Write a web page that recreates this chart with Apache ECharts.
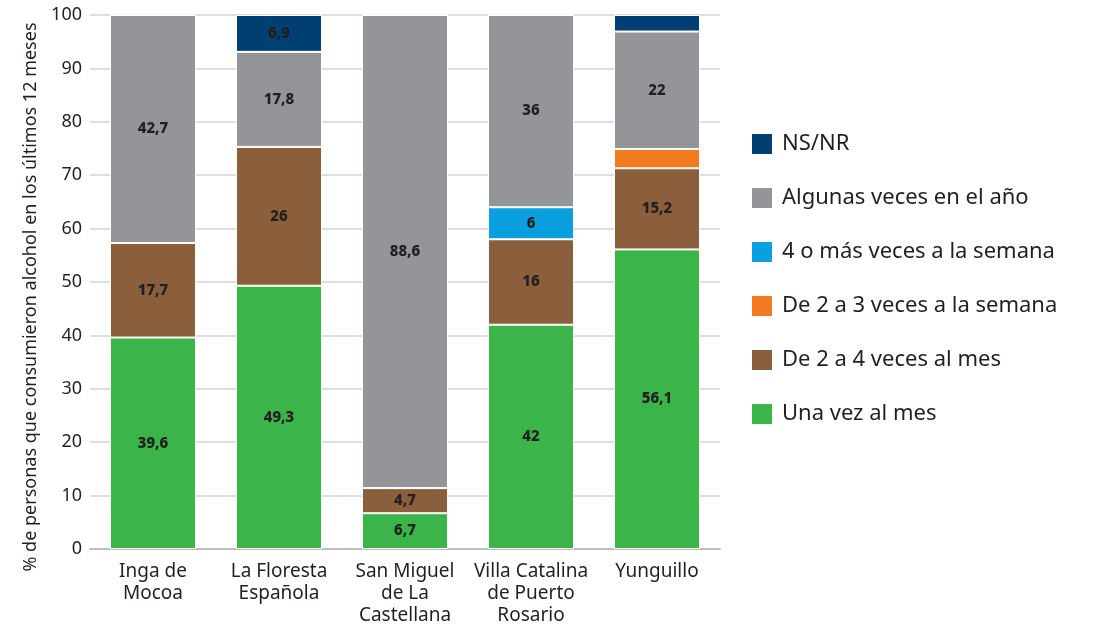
<!DOCTYPE html>
<html>
<head>
<meta charset="utf-8">
<script src="https://cdn.jsdelivr.net/npm/echarts@6/dist/echarts.min.js"></script>
<style>
  html, body { margin: 0; padding: 0; background: #fff; }
  #chart { width: 1093px; height: 628px; }
</style>
</head>
<body>
<div id="chart"></div>
<script>
// categorias (barrios / veredas)
var categories = [
  "Inga de\nMocoa",
  "La Floresta\nEspañola",
  "San Miguel\nde La\nCastellana",
  "Villa Catalina\nde Puerto\nRosario",
  "Yunguillo"
];

// valores por frecuencia de consumo (%)
var unaVezAlMes = [39.6, 49.3, 6.7, 42, 56.1];
var de2a4AlMes = [17.7, 26, 4.7, 16, 15.2];
var de2a3Semana = [0, 0, 0, 0, 3.6];
var cuatroOMasSemana = [0, 0, 0, 6, 0];
var algunasVecesAno = [42.7, 17.8, 88.6, 36, 22];
var nsnr = [0, 6.9, 0, 0, 3.1];

var yTicks = [0, 10, 20, 30, 40, 50, 60, 70, 80, 90, 100];

var FONT = "Noto Sans";
var myChart = echarts.init(document.getElementById("chart"));

function serie(name, data, color) {
  return {
    name: name,
    type: "bar",
    stack: "total",
    barWidth: 86,
    data: data,
    itemStyle: { color: color, borderColor: "#fff", borderWidth: 1 },
    label: {
      show: true,
      position: "inside",
      color: "#231f20",
      fontWeight: 800,
      fontSize: 15,
      fontFamily: FONT,
      formatter: function (p) {
        // los segmentos muy pequeños no llevan etiqueta
        if (p.value < 4) return "";
        return String(p.value).replace(".", ",");
      }
    }
  };
}

var option = {
  animation: false,
  grid: { left: 90, right: 373, top: 15, bottom: 79 },
  legend: {
    orient: "vertical",
    left: 745,
    top: 127,
    itemWidth: 22,
    itemHeight: 22,
    itemGap: 30,
    icon: "rect",
    textStyle: { fontSize: 22, lineHeight: 22, color: "#231f20", fontFamily: FONT, padding: [0, 0, 0, 4] },
    data: [
      "NS/NR",
      "Algunas veces en el año",
      "4 o más veces a la semana",
      "De 2 a 3 veces a la semana",
      "De 2 a 4 veces al mes",
      "Una vez al mes"
    ]
  },
  xAxis: {
    type: "category",
    data: categories,
    axisLine: { lineStyle: { color: "#bcbec0", width: 2 } },
    axisTick: { show: false },
    axisLabel: {
      interval: 0,
      color: "#231f20",
      fontSize: 19,
      fontFamily: FONT,
      lineHeight: 22,
      margin: 12
    }
  },
  yAxis: {
    type: "value",
    min: 0,
    max: 100,
    interval: 10,
    name: "% de personas que consumieron alcohol en los últimos 12 meses",
    nameLocation: "middle",
    nameGap: 40,
    nameTextStyle: { fontSize: 18, color: "#231f20", fontFamily: FONT, padding: [0, 30, 0, 0] },
    axisLine: { show: false },
    axisTick: { show: false },
    splitLine: { lineStyle: { color: "#d1d3d4", width: 1.5 } },
    axisLabel: {
      color: "#231f20",
      fontSize: 18,
      fontFamily: FONT,
      margin: 8,
      formatter: function (v) { return yTicks.indexOf(v) >= 0 ? v : ""; }
    }
  },
  series: [
    serie("Una vez al mes", unaVezAlMes, "#3bb54a"),
    serie("De 2 a 4 veces al mes", de2a4AlMes, "#8b5e3c"),
    serie("De 2 a 3 veces a la semana", de2a3Semana, "#f47b20"),
    serie("4 o más veces a la semana", cuatroOMasSemana, "#0aa0df"),
    serie("Algunas veces en el año", algunasVecesAno, "#939598"),
    serie("NS/NR", nsnr, "#003f72")
  ]
};

myChart.setOption(option);
</script>
</body>
</html>
